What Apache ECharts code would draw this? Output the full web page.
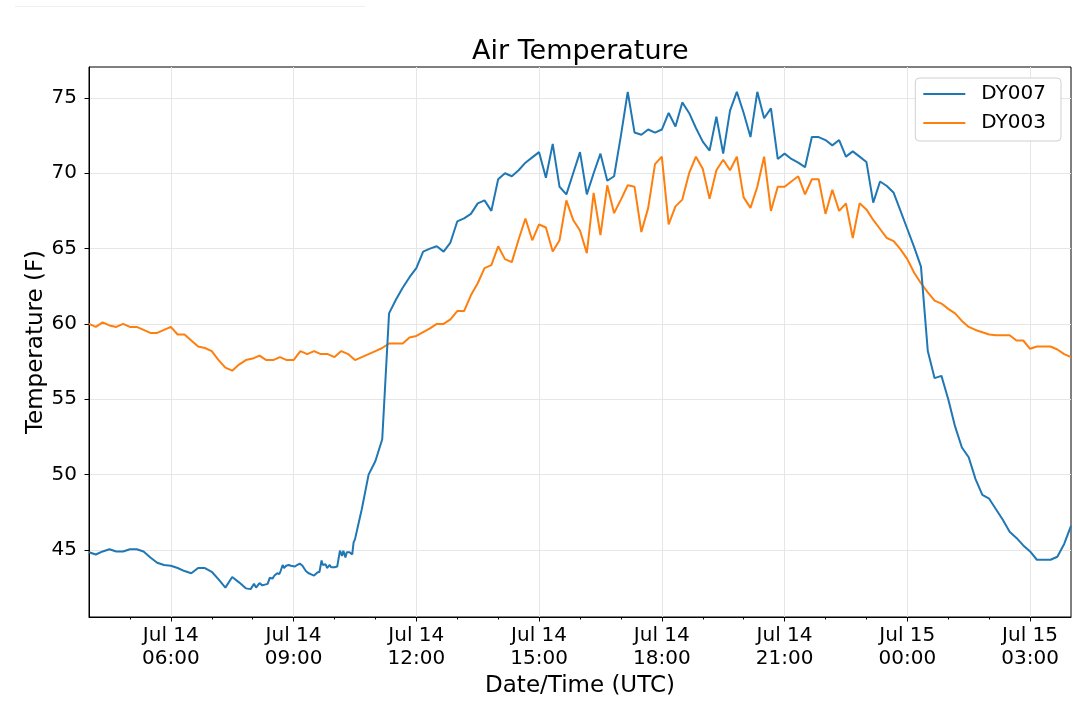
<!DOCTYPE html>
<html>
<head>
<meta charset="utf-8">
<script src="https://cdn.jsdelivr.net/npm/echarts@6/dist/echarts.min.js"></script>
<style>html,body{margin:0;padding:0;background:#fff;}#c{width:1080px;height:707px;}</style>
</head>
<body>
<div id="c"></div>
<script>
// Time is expressed in hours since Jul 14 00:00 UTC
var startHour = 4;          // first sample: Jul 14 04:00
var stepMinutes = 10;       // regular sampling interval

var yTicks = [45, 50, 55, 60, 65, 70, 75];
var xMajorTicks = [6, 9, 12, 15, 18, 21, 24, 27];
var xMinorTicks = [5,6,7,8,9,10,11,12,13,14,15,16,17,18,19,20,21,22,23,24,25,26,27];

// DY003: 10-minute samples from Jul 14 04:00 to Jul 15 04:00
var dy003Temps = [60.0, 59.8, 60.1, 59.9, 59.8, 60.0, 59.8, 59.8, 59.6, 59.4, 59.4, 59.6, 59.8, 59.3, 59.3, 58.9, 58.5, 58.4, 58.2, 57.6,
  57.1, 56.9, 57.3, 57.6, 57.7, 57.9, 57.6, 57.6, 57.8, 57.6, 57.6, 58.2, 58.0, 58.2, 58.0, 58.0, 57.8, 58.2, 58.0, 57.6,
  57.8, 58.0, 58.2, 58.4, 58.7, 58.7, 58.7, 59.1, 59.2, 59.45, 59.7, 60.0, 60.0, 60.3, 60.85, 60.85, 61.9, 62.7, 63.7, 63.9,
  65.15, 64.3, 64.1, 65.6, 67.0, 65.55, 66.6, 66.4, 64.8, 65.55, 68.2, 66.9, 66.2, 64.7, 68.7, 65.9, 69.2, 67.35, 68.25, 69.2,
  69.1, 66.1, 67.7, 70.6, 71.1, 66.6, 67.8, 68.25, 70.0, 71.1, 70.3, 68.3, 70.2, 70.9, 70.2, 71.1, 68.4, 67.7, 69.1, 71.1,
  67.5, 69.1, 69.1, 69.45, 69.8, 68.6, 69.6, 69.6, 67.3, 68.9, 67.5, 68.0, 65.7, 68.0, 67.6, 66.9, 66.3, 65.7, 65.5, 64.95,
  64.3, 63.4, 62.7, 62.1, 61.55, 61.35, 61.0, 60.7, 60.2, 59.8, 59.6, 59.45, 59.3, 59.25, 59.25, 59.25, 58.9, 58.9, 58.35, 58.5,
  58.5, 58.5, 58.3, 58.0, 57.8];

// DY007: 10-minute samples from 04:00 to 07:50
var dy007Early = [44.85, 44.7, 44.9, 45.05, 44.9, 44.9, 45.05, 45.05, 44.9, 44.5, 44.15, 44.0, 43.95, 43.8, 43.6, 43.45, 43.8, 43.8, 43.55, 43.05,
  42.5, 43.2, 42.85, 42.45];
// DY007: denser samples between 07:50 and 10:40 (minutes after 04:00)
var dy007DetailMinutes = [237, 242, 245, 250, 254, 258, 262, 265, 269, 272, 276, 279, 281, 284, 286, 289, 291, 293, 296, 298,
  302, 305, 309, 313, 318, 322, 325, 327, 330, 335, 338, 341, 343, 347, 349, 351, 353, 355, 360, 364,
  366, 368, 371, 373, 376, 378, 382, 386, 388, 390, 394];
var dy007DetailTemps = [42.4, 42.75, 42.5, 42.8, 42.65, 42.7, 42.75, 43.15, 43.1, 43.3, 43.45, 43.4, 43.6, 44.0, 43.8, 43.95, 43.9, 44.0, 43.95, 44.0,
  43.9, 44.0, 44.1, 43.95, 43.6, 43.45, 43.4, 43.5, 43.3, 43.5, 43.55, 44.3, 44.0, 44.05, 43.8, 43.85, 44.0, 43.85, 43.85, 43.9,
  43.85, 44.95, 44.6, 44.95, 44.5, 44.85, 44.85, 44.7, 45.5, 45.7, 46.5];
// DY007: 10-minute samples from 10:40 (minute 400) to Jul 15 04:00
var dy007LateStartMinute = 400;
var dy007Late = [47.7, 50.0, 50.9, 52.35, 60.7, 61.6, 62.4, 63.1, 63.7, 64.8, 65.0, 65.15, 64.8, 65.4, 66.8, 67.0, 67.3, 68.0, 68.2, 67.5,
  69.6, 70.0, 69.8, 70.2, 70.7, 71.05, 71.4, 69.7, 71.95, 69.1, 68.6, 70.0, 71.4, 68.6, 70.0, 71.3, 69.5, 69.8, 72.5, 75.4,
  72.7, 72.55, 72.9, 72.7, 72.9, 74.0, 73.1, 74.7, 74.0, 73.0, 72.1, 71.5, 73.75, 71.3, 74.15, 75.4, 74.0, 72.4, 75.4, 73.65,
  74.3, 70.95, 71.3, 70.95, 70.7, 70.4, 72.4, 72.4, 72.2, 71.85, 72.2, 71.1, 71.45, 71.1, 70.75, 68.05, 69.45, 69.15, 68.7, 67.5,
  66.3, 65.1, 63.8, 58.2, 56.4, 56.55, 55.0, 53.2, 51.8, 51.15, 49.7, 48.65, 48.4, 47.7, 47.0, 46.2, 45.8, 45.3, 44.9, 44.35,
  44.35, 44.35, 44.55, 45.4, 46.6];

function toHour(minutes) { return startHour + minutes / 60; }

var dy003Data = dy003Temps.map(function (v, i) { return [toHour(i * stepMinutes), v]; });
var dy007Data = [];
dy007Early.forEach(function (v, i) { dy007Data.push([toHour(i * stepMinutes), v]); });
dy007DetailMinutes.forEach(function (m, i) { dy007Data.push([toHour(m), dy007DetailTemps[i]]); });
dy007Late.forEach(function (v, i) { dy007Data.push([toHour(dy007LateStartMinute + i * stepMinutes), v]); });

var FONT = 'DejaVu Sans';
var chart = echarts.init(document.getElementById('c'), null, { renderer: 'canvas' });

function fmtX(v) {
  var day = v < 24 ? 14 : 15;
  var h = Math.round(v) % 24;
  return 'Jul ' + day + '\n' + (h < 10 ? '0' : '') + h + ':00';
}

chart.setOption({
  backgroundColor: '#fff',
  animation: false,
  title: {
    text: 'Air Temperature',
    left: 467, top: 33,
    textStyle: { fontFamily: FONT, fontSize: 27, fontWeight: 'normal', color: '#000' }
  },
  graphic: [{
    type: 'line', shape: { x1: 15, y1: 6.5, x2: 365, y2: 6.5 },
    style: { stroke: '#eeeeee', lineWidth: 1 }
  }],
  legend: {
    orient: 'vertical',
    right: 19, top: 78,
    padding: [6, 15, 8, 8],
    itemGap: 9,
    itemWidth: 42, itemHeight: 2,
    icon: 'rect',
    backgroundColor: '#fff',
    borderColor: '#d0d0d0', borderWidth: 1, borderRadius: 4,
    textStyle: { fontFamily: FONT, fontSize: 20, color: '#000', padding: [0, 0, 0, 11] },
    data: ['DY007', 'DY003']
  },
  grid: {
    left: 89, right: 9, top: 67, bottom: 90,
    show: true, borderColor: '#000', borderWidth: 1, backgroundColor: 'transparent'
  },
  xAxis: [{
    type: 'value', min: 4, max: 28,
    name: 'Date/Time (UTC)', nameLocation: 'middle', nameGap: 56,
    nameTextStyle: { fontFamily: FONT, fontSize: 23, color: '#000' },
    axisLine: { show: true, lineStyle: { color: '#000', width: 1 } },
    axisTick: { show: true, customValues: xMajorTicks, length: 4.5, lineStyle: { color: '#000' } },
    axisLabel: { customValues: xMajorTicks, formatter: fmtX, margin: 7, lineHeight: 23,
      fontFamily: FONT, fontSize: 20, color: '#000' },
    splitLine: { show: true, lineStyle: { color: '#e6e6e6', width: 1 } }
  }, {
    type: 'value', min: 4, max: 28, position: 'bottom', offset: 0,
    axisLine: { show: false },
    axisTick: { show: true, customValues: xMinorTicks, length: 2.5, lineStyle: { color: '#000' } },
    axisLabel: { show: false },
    splitLine: { show: false }
  }],
  yAxis: {
    type: 'value', min: 40.55, max: 77.05,
    name: 'Temperature (F)', nameLocation: 'middle', nameGap: 41, nameMoveOverlap: false,
    nameTextStyle: { fontFamily: FONT, fontSize: 23, color: '#000' },
    axisLine: { show: true, lineStyle: { color: '#000', width: 1 } },
    axisTick: { show: true, customValues: yTicks, length: 4.5, lineStyle: { color: '#000' } },
    axisLabel: { customValues: yTicks, margin: 12, fontFamily: FONT, fontSize: 20, color: '#000' },
    splitLine: { show: true, lineStyle: { color: '#e6e6e6', width: 1 } }
  },
  series: [{
    name: 'DY007', type: 'line', xAxisIndex: 0, data: dy007Data,
    showSymbol: false, symbol: 'none',
    lineStyle: { color: '#1f77b4', width: 2 }, itemStyle: { color: '#1f77b4' }, z: 3
  }, {
    name: 'DY003', type: 'line', xAxisIndex: 0, data: dy003Data,
    showSymbol: false, symbol: 'none',
    lineStyle: { color: '#ff7f0e', width: 2 }, itemStyle: { color: '#ff7f0e' }, z: 2
  }]
});
</script>
</body>
</html>
